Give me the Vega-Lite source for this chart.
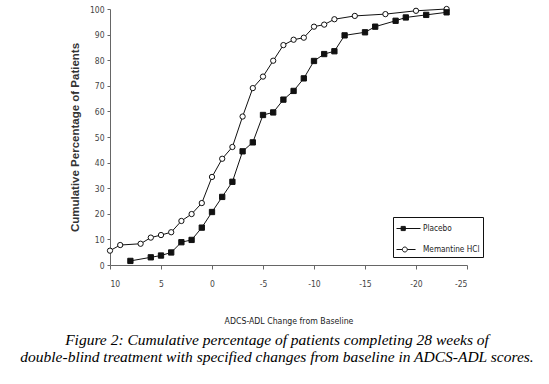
{
  "$schema": "https://vega.github.io/schema/vega-lite/v6.json",
  "width": 357,
  "height": 256,
  "autosize": {"type": "none"},
  "padding": {"left": 110, "top": 9, "right": 82, "bottom": 119},
  "background": "white",
  "config": {
    "view": {"stroke": null},
    "axis": {
      "grid": false,
      "domainColor": "#666",
      "tickColor": "#666",
      "labelColor": "#444",
      "labelFont": "DejaVu Sans Condensed",
      "labelFontSize": 8.5,
      "titleColor": "#111"
    }
  },
  "title": {
    "text": ["Figure 2: Cumulative percentage of patients completing 28 weeks of", "double-blind treatment with specified changes from baseline in ADCS-ADL scores."],
    "orient": "bottom",
    "anchor": "middle",
    "frame": "group",
    "dx": -11.5,
    "offset": 8,
    "font": "Liberation Serif",
    "fontStyle": "italic",
    "fontWeight": "normal",
    "fontSize": 15.5,
    "lineHeight": 17.5,
    "color": "#000"
  },
  "data": {
    "values": [
      {"series": "Memantine HCl", "change": 10, "pct": 5.6},
      {"series": "Memantine HCl", "change": 9, "pct": 7.8},
      {"series": "Memantine HCl", "change": 7, "pct": 8.3},
      {"series": "Memantine HCl", "change": 6, "pct": 10.7},
      {"series": "Memantine HCl", "change": 5, "pct": 11.7},
      {"series": "Memantine HCl", "change": 4, "pct": 12.8},
      {"series": "Memantine HCl", "change": 3, "pct": 17.2},
      {"series": "Memantine HCl", "change": 2, "pct": 19.9},
      {"series": "Memantine HCl", "change": 1, "pct": 24.2},
      {"series": "Memantine HCl", "change": 0, "pct": 34.4},
      {"series": "Memantine HCl", "change": -1, "pct": 41.5},
      {"series": "Memantine HCl", "change": -2, "pct": 46.1},
      {"series": "Memantine HCl", "change": -3, "pct": 58.0},
      {"series": "Memantine HCl", "change": -4, "pct": 69.1},
      {"series": "Memantine HCl", "change": -5, "pct": 73.6},
      {"series": "Memantine HCl", "change": -6, "pct": 79.8},
      {"series": "Memantine HCl", "change": -7, "pct": 85.9},
      {"series": "Memantine HCl", "change": -8, "pct": 88.0},
      {"series": "Memantine HCl", "change": -9, "pct": 88.8},
      {"series": "Memantine HCl", "change": -10, "pct": 93.1},
      {"series": "Memantine HCl", "change": -11, "pct": 93.9},
      {"series": "Memantine HCl", "change": -12, "pct": 96.0},
      {"series": "Memantine HCl", "change": -14, "pct": 97.3},
      {"series": "Memantine HCl", "change": -17, "pct": 98.0},
      {"series": "Memantine HCl", "change": -20, "pct": 99.3},
      {"series": "Memantine HCl", "change": -23, "pct": 100.0},
      {"series": "Placebo", "change": 8, "pct": 1.6},
      {"series": "Placebo", "change": 6, "pct": 3.0},
      {"series": "Placebo", "change": 5, "pct": 3.7},
      {"series": "Placebo", "change": 4, "pct": 4.9},
      {"series": "Placebo", "change": 3, "pct": 8.9},
      {"series": "Placebo", "change": 2, "pct": 9.8},
      {"series": "Placebo", "change": 1, "pct": 14.6},
      {"series": "Placebo", "change": 0, "pct": 20.7},
      {"series": "Placebo", "change": -1, "pct": 26.6},
      {"series": "Placebo", "change": -2, "pct": 32.5},
      {"series": "Placebo", "change": -3, "pct": 44.4},
      {"series": "Placebo", "change": -4, "pct": 47.9},
      {"series": "Placebo", "change": -5, "pct": 58.6},
      {"series": "Placebo", "change": -6, "pct": 59.6},
      {"series": "Placebo", "change": -7, "pct": 64.6},
      {"series": "Placebo", "change": -8, "pct": 68.0},
      {"series": "Placebo", "change": -9, "pct": 72.9},
      {"series": "Placebo", "change": -10, "pct": 79.7},
      {"series": "Placebo", "change": -11, "pct": 82.4},
      {"series": "Placebo", "change": -12, "pct": 83.5},
      {"series": "Placebo", "change": -13, "pct": 89.7},
      {"series": "Placebo", "change": -15, "pct": 90.9},
      {"series": "Placebo", "change": -16, "pct": 93.1},
      {"series": "Placebo", "change": -18, "pct": 95.4},
      {"series": "Placebo", "change": -19, "pct": 96.7},
      {"series": "Placebo", "change": -21, "pct": 97.7},
      {"series": "Placebo", "change": -23, "pct": 98.7}
    ]
  },
  "encoding": {
    "x": {
      "field": "change",
      "type": "quantitative",
      "scale": {"domain": [-25, 10], "reverse": true, "nice": false, "zero": false},
      "axis": {
        "values": [10, 5, 0, -5, -10, -15, -20, -25],
        "labelExpr": "'' + datum.value",
        "tickSize": 4,
        "labelPadding": 10,
        "title": "ADCS-ADL Change from Baseline",
        "titleFont": "DejaVu Sans Condensed",
        "titleFontSize": 8.7,
        "titleFontWeight": "normal",
        "titleColor": "#222",
        "titleY": 55,
        "titleBaseline": "middle"
      }
    },
    "y": {
      "field": "pct",
      "type": "quantitative",
      "scale": {"domain": [0, 100], "nice": false},
      "axis": {
        "values": [0, 10, 20, 30, 40, 50, 60, 70, 80, 90, 100],
        "tickSize": 3,
        "labelPadding": 3,
        "title": "Cumulative Percentage of Patients",
        "titleFont": "Liberation Sans",
        "titleFontSize": 11.5,
        "titleFontWeight": "bold",
        "titleColor": "#333",
        "titleX": -35,
        "titleY": 128,
        "titleAngle": -90,
        "titleAlign": "center",
        "titleBaseline": "middle"
      }
    }
  },
  "layer": [
    {
      "mark": {"type": "line", "color": "#111", "strokeWidth": 1},
      "encoding": {"detail": {"field": "series"}}
    },
    {
      "mark": {"type": "point", "filled": true, "opacity": 1, "stroke": "#111", "strokeWidth": 1, "size": 28},
      "encoding": {
        "fill": {
          "condition": {"test": "datum.series === 'Placebo'", "value": "#111"},
          "value": "white"
        },
        "shape": {
          "field": "series",
          "type": "nominal",
          "scale": {"domain": ["Placebo", "Memantine HCl"], "range": ["square", "circle"]},
          "legend": null
        }
      }
    },
    {
      "mark": {"type": "point", "filled": false, "opacity": 0, "color": "#111", "strokeWidth": 1},
      "encoding": {
        "shape": {
          "field": "series",
          "type": "nominal",
          "scale": {
            "domain": ["Placebo", "Memantine HCl"],
            "range": [
              "M-1,0H2M-0.42,-0.26H0.1V0.26H-0.42ZM-0.42,-0.13H0.1M-0.42,0.13H0.1",
              "M-1,0H-0.27M0.35,0H1.38M-0.27,0A0.31,0.31,0,1,0,0.35,0A0.31,0.31,0,1,0,-0.27,0Z"
            ]
          },
          "legend": {
            "title": null,
            "orient": "none",
            "legendX": 283,
            "legendY": 208,
            "padding": 3,
            "rowPadding": 8,
            "symbolSize": 256,
            "symbolOpacity": 1,
            "symbolFillColor": "white",
            "symbolStrokeColor": "#111",
            "symbolStrokeWidth": 1,
            "labelOffset": 10,
            "labelFont": "DejaVu Sans Condensed",
            "labelFontSize": 8.2,
            "labelColor": "#222",
            "strokeColor": "#111",
            "fillColor": "white"
          }
        }
      }
    }
  ],
  "resolve": {"scale": {"shape": "independent"}, "legend": {"shape": "independent"}}
}
